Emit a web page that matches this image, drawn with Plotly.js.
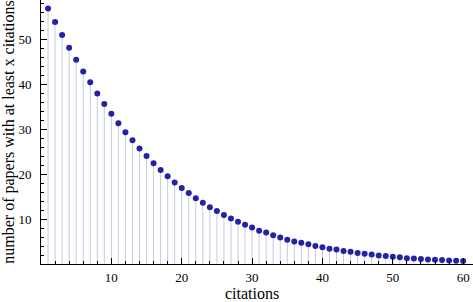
<!DOCTYPE html>
<html>
<head>
<meta charset="utf-8">
<script src="https://cdn.plot.ly/plotly-3.0.1.min.js"></script>
<style>
  html, body { margin: 0; padding: 0; background: #fff; }
  #chart { width: 473px; height: 302px; }
</style>
</head>
<body>
<div id="chart"></div>
<script>
// citations (x) and number of papers with at least x citations (y)
const citations = [];
for (let i = 1; i <= 60; i++) citations.push(i);
const papers = [
  56.8, 53.8, 50.9, 48.1, 45.4, 42.8, 40.4, 37.9, 35.6, 33.4,
  31.3, 29.3, 27.5, 25.7, 24.0, 22.4, 20.9, 19.5, 18.1, 16.9,
  15.8, 14.6, 13.6, 12.6, 11.8, 10.9, 10.1, 9.4, 8.7, 8.1,
  7.4, 7.0, 6.4, 5.9, 5.4, 5.0, 4.7, 4.4, 4.0, 3.7,
  3.4, 3.2, 2.9, 2.7, 2.45, 2.3, 2.1, 1.9, 1.8, 1.6,
  1.5, 1.3, 1.2, 1.1, 1.0, 0.95, 0.9, 0.8, 0.73, 0.68
];
const xTicks = [10, 20, 30, 40, 50, 60];
const yTicks = [10, 20, 30, 40, 50];

// vertical stems from 0 up to each point
const stemX = [], stemY = [];
citations.forEach((c, i) => {
  stemX.push(c, c, null);
  stemY.push(0, papers[i], null);
});

const stems = {
  x: stemX,
  y: stemY,
  mode: "lines",
  line: { color: "#c5c9e4", width: 1 },
  hoverinfo: "skip",
  showlegend: false
};

const dots = {
  x: citations,
  y: papers,
  mode: "markers",
  marker: { color: "#2323a6", size: 6 },
  showlegend: false
};

const serif = "'Liberation Serif', 'DejaVu Serif', serif";

const layout = {
  width: 473,
  height: 302,
  margin: { l: 41, r: 0, t: 0, b: 38 },
  paper_bgcolor: "#fff",
  plot_bgcolor: "#fff",
  font: { family: serif, color: "#000" },
  xaxis: {
    range: [0, 61.4],
    tickvals: xTicks,
    ticks: "inside",
    ticklen: 6,
    tickwidth: 1,
    tickcolor: "#000",
    minor: { dtick: 2, tick0: 0, ticks: "inside", ticklen: 3, tickcolor: "#000" },
    showgrid: false,
    zeroline: false,
    showline: true,
    linecolor: "#000",
    linewidth: 1,
    ticklabelstandoff: 1,
    tickfont: { family: serif, size: 13, color: "#000" }
  },
  yaxis: {
    range: [0, 58.7],
    tickvals: yTicks,
    ticks: "inside",
    ticklen: 6,
    tickwidth: 1,
    tickcolor: "#000",
    minor: { dtick: 2, tick0: 0, ticks: "inside", ticklen: 3, tickcolor: "#000" },
    showgrid: false,
    zeroline: false,
    showline: true,
    linecolor: "#000",
    linewidth: 1,
    ticklabelstandoff: 6,
    tickfont: { family: serif, size: 13, color: "#000" },
    title: { text: "number of papers with at least x citations", font: { family: serif, size: 16, color: "#000" }, standoff: 6 }
  },
  annotations: [{
    text: "citations",
    xref: "paper", yref: "paper",
    x: 0.488, y: 0,
    xanchor: "center", yanchor: "top",
    yshift: -19,
    showarrow: false,
    font: { family: serif, size: 16, color: "#000" }
  }]
};

Plotly.newPlot("chart", [stems, dots], layout, { displayModeBar: false, staticPlot: true });
</script>
</body>
</html>
